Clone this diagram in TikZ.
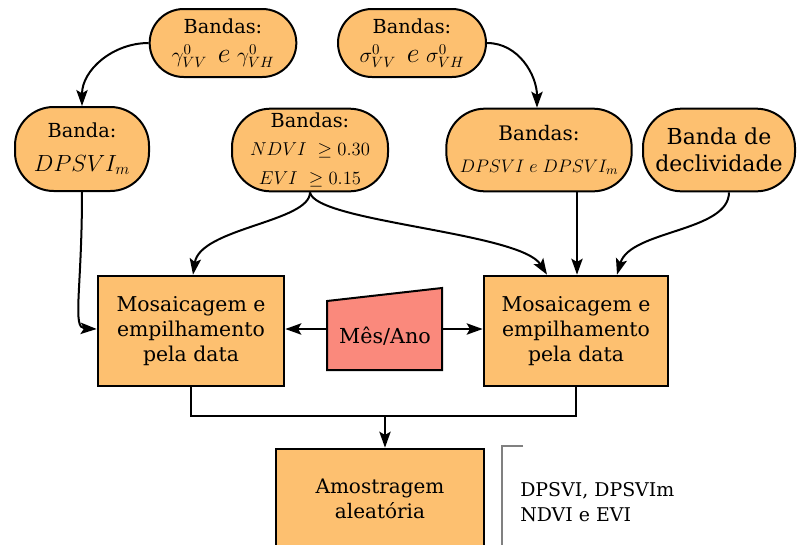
\RequirePackage{fix-cm}
\documentclass[tikz,border=0pt]{standalone}
\usepackage{fontspec}
\setmainfont{DejaVu Serif}
\usetikzlibrary{arrows.meta}
\definecolor{orfill}{RGB}{253,192,112}
\definecolor{redfill}{RGB}{250,137,124}
\newcommand{\fsz}[1]{\fontsize{#1}{#1}\selectfont}
\begin{document}
\begin{tikzpicture}[x=0.75pt,y=-0.75pt,
  pill/.style={rectangle, rounded corners=29pt, draw, line width=1.5pt, fill=orfill, align=center, inner sep=0pt, font=\fontsize{14.5}{17}\selectfont},
  toppill/.style={pill, rounded corners=25.5pt, minimum height=51pt},
  boxst/.style={rectangle, draw, line width=2pt, fill=orfill, align=center, inner sep=0pt, font=\fontsize{15.3}{18.75}\selectfont},
  arr/.style={line width=1.5pt, -{Stealth[length=12pt,width=8.5pt,inset=2.5pt]}},
  ln/.style={line width=1.5pt}]
\useasboundingbox (0,0) rectangle (801,544);
% pills
\node[toppill, minimum width=110pt] (g) at (223,43) {Bandas:\\[5pt] {\fsz{16}$\gamma^0_{VV}$\hspace{8pt}{\fsz{21}$e$}\hspace{5pt}$\gamma^0_{VH}$}};
\node[toppill, minimum width=111pt] (s) at (412,43) {Bandas:\\[5pt] {\fsz{16}$\sigma^0_{VV}$\hspace{8pt}{\fsz{21}$e$}\hspace{5pt}$\sigma^0_{VH}$}};
\node[pill, minimum width=100.5pt, minimum height=63pt] (dm) at (82,149) {Banda:\\[8pt] {\fsz{17.5}$DPSVI_m$}};
\node[pill, minimum width=117pt, minimum height=62pt] (nd) at (310,150) {Bandas:\\[4pt] {\fsz{14}$NDVI\ \geq 0.30$}\\[5pt] {\fsz{14}$EVI\ \geq 0.15$}};
\node[pill, minimum width=139pt, minimum height=62pt, font=\fontsize{15}{17}\selectfont] (dd) at (539,150) {Bandas:\\[7pt] {\fsz{13.6}$DPSVI\;e\;DPSVI_m$}};
\node[pill, minimum width=114pt, minimum height=62pt, font=\fontsize{16.5}{20}\selectfont] (dc) at (719,150) {Banda de\\declividade};
% boxes
\node[boxst, minimum width=139.5pt, minimum height=82.5pt] (lb) at (191,331) {Mosaicagem e\\empilhamento\\pela data};
\node[boxst, minimum width=138pt, minimum height=82.5pt] (rb) at (576,331) {Mosaicagem e\\empilhamento\\pela data};
\node[boxst, minimum width=156pt, minimum height=75pt, font=\fontsize{15}{19}\selectfont] (am) at (380,499) {Amostragem\\aleatória};
% trapezoid
\draw[line width=1.5pt, fill=redfill] (327,301) -- (442,288) -- (442,370) -- (327,370) -- cycle;
\node[font=\fontsize{15.5}{17}\selectfont] (mes) at (385,336) {Mês/Ano};
\coordinate (mL) at (327,329);
\coordinate (mR) at (442,329);
\draw[arr] (mL) -- (mL -| lb.east);
\draw[arr] (mR) -- (mR -| rb.west);
% arrows from top
\draw[arr] (g.west) to[out=180,in=90] (dm.north);
\draw[arr] (s.east) to[out=0,in=90] (dd.north west -| 537,0);
\draw[arr] (dm.south) .. controls (82,290) and (72,328) .. (lb.west |- mL);
\draw[arr] (nd.south) .. controls (310,222) and (200,228) .. (lb.north -| 193,0);
\draw[arr] (nd.south) .. controls (315,222) and (520,232) .. (rb.north -| 547,0);
\draw[arr] (dd.south -| 577,0) -- (rb.north -| 577,0);
\draw[arr] (dc.south -| 729,0) .. controls (729,232) and (630,230) .. (rb.north -| 617,0);
% bottom merge
\coordinate (jn) at (385,416);
\draw[ln] (lb.south) |- (jn) -| (rb.south);
\draw[arr] (jn) -- (am.north -| jn);
% grey bracket
\draw[gray, line width=0.9pt] (523,446) -- (502,446) -- (502,560);
\node[anchor=west, align=left, font=\fontsize{14.2}{19}\selectfont, inner sep=0pt] (tx) at (520,502) {DPSVI, DPSVIm\\NDVI e EVI};
\end{tikzpicture}
\end{document}
